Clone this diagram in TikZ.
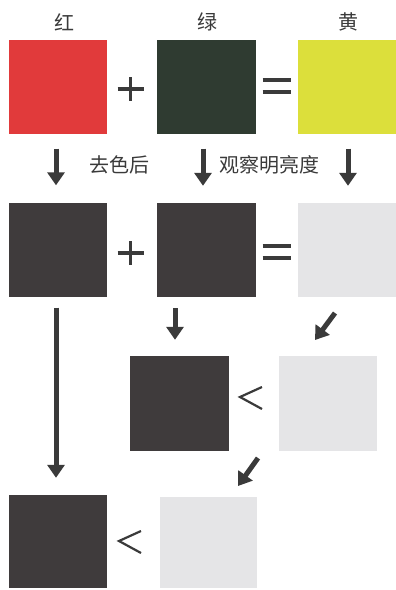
\documentclass[tikz,border=0pt]{standalone}
\usepackage{fontspec}
\setmainfont{Noto Sans CJK SC}
\usetikzlibrary{arrows.meta,calc}
\definecolor{cred}{HTML}{E13A3B}
\definecolor{cgreen}{HTML}{2F3B31}
\definecolor{cyellow}{HTML}{DCDF3B}
\definecolor{cdark}{HTML}{3F3B3C}
\definecolor{clight}{HTML}{E5E5E7}
\definecolor{cink}{HTML}{3A3A3A}
\tikzset{
  sq/.style={inner sep=0pt, minimum width=98pt, minimum height=94pt, draw=none},
  lab/.style={font=\fontsize{20pt}{22pt}\selectfont, text=cink, inner sep=0pt},
  arr/.style={draw=cink, line width=5pt, -{Triangle[width=17pt,length=13pt]}},
  sym/.style={draw=cink, line width=3.2pt},
  lt/.style={draw=cink, line width=2.2pt}
}
\begin{document}
\begin{tikzpicture}[x=1pt,y=-1pt]
\useasboundingbox[fill=white] (0,0) rectangle (396,590);
% row 1
\node[sq, fill=cred] (r) at (58,86.5) {};
\node[sq, fill=cgreen, minimum width=99pt] (g) at (206.5,86.5) {};
\node[sq, fill=cyellow] (y) at (347,86.5) {};
\node[lab] (lr) at (64,22) {红};
\node[lab] (lg) at (207,22) {绿};
\node[lab] (ly) at (348,22) {黄};
% plus / equals row 1
\coordinate (p1) at (130.5,89);
\draw[sym] ($(p1)+(-13,0)$) -- ($(p1)+(13,0)$);
\draw[sym] ($(p1)+(0,-12)$) -- ($(p1)+(0,12)$);
\coordinate (e1) at (276.5,86);
\draw[sym] ($(e1)+(-14,-6)$) -- ($(e1)+(14,-6)$);
\draw[sym] ($(e1)+(-14,6)$) -- ($(e1)+(14,6)$);
% row 2
\node[sq, fill=cdark] (r2) at (58,249.5) {};
\node[sq, fill=cdark, minimum width=99pt] (g2) at (206.5,250) {};
\node[sq, fill=clight] (y2) at (347,250) {};
\coordinate (p2) at (130.5,253);
\draw[sym] ($(p2)+(-13,0)$) -- ($(p2)+(13,0)$);
\draw[sym] ($(p2)+(0,-12)$) -- ($(p2)+(0,12)$);
\coordinate (e2) at (276.5,252);
\draw[sym] ($(e2)+(-14,-6)$) -- ($(e2)+(14,-6)$);
\draw[sym] ($(e2)+(-14,6)$) -- ($(e2)+(14,6)$);
% labels between rows
\node[lab] (t1) at (119,165) {去色后};
\node[lab] (t2) at (269,165) {观察明亮度};
% arrows row1 -> row2
\draw[arr] ($(r.south)+(-2,15)$) -- ($(r2.north)+(-2,-17)$);
\draw[arr] ($(g.south)+(-3.5,15)$) -- ($(g2.north)+(-3.5,-17)$);
\draw[arr] ($(y.south)+(1,15)$) -- ($(y2.north)+(1,-17)$);
% row 3
\node[sq, fill=cdark, minimum width=99pt, minimum height=95pt] (d3) at (179.5,403.5) {};
\node[sq, fill=clight, minimum height=95pt] (l3) at (328,403.5) {};
\coordinate (c3) at (240,397);
\draw[lt] ($(c3)+(22,-10)$) -- (c3) -- ($(c3)+(22,12)$);
% row 4
\node[sq, fill=cdark, minimum height=93pt] (d4) at (58,541.5) {};
\node[sq, fill=clight, minimum width=97pt, minimum height=91pt] (l4) at (208.5,542.5) {};
\coordinate (c4) at (119,541);
\draw[lt] ($(c4)+(22,-10)$) -- (c4) -- ($(c4)+(22,12)$);
% arrows
\draw[arr] ($(r2.south)+(-2,11)$) -- ($(d4.north)+(-2,-17)$);
\draw[arr] ($(g2.south)+(-31.5,11)$) -- ($(d3.north)+(-4.5,-16)$);
\coordinate (a1s) at (335,313);
\coordinate (a1e) at (315,340);
\draw[arr] (a1s) -- (a1e);
\coordinate (a2s) at (258,458);
\coordinate (a2e) at (238,486);
\draw[arr] (a2s) -- (a2e);
\end{tikzpicture}
\end{document}
